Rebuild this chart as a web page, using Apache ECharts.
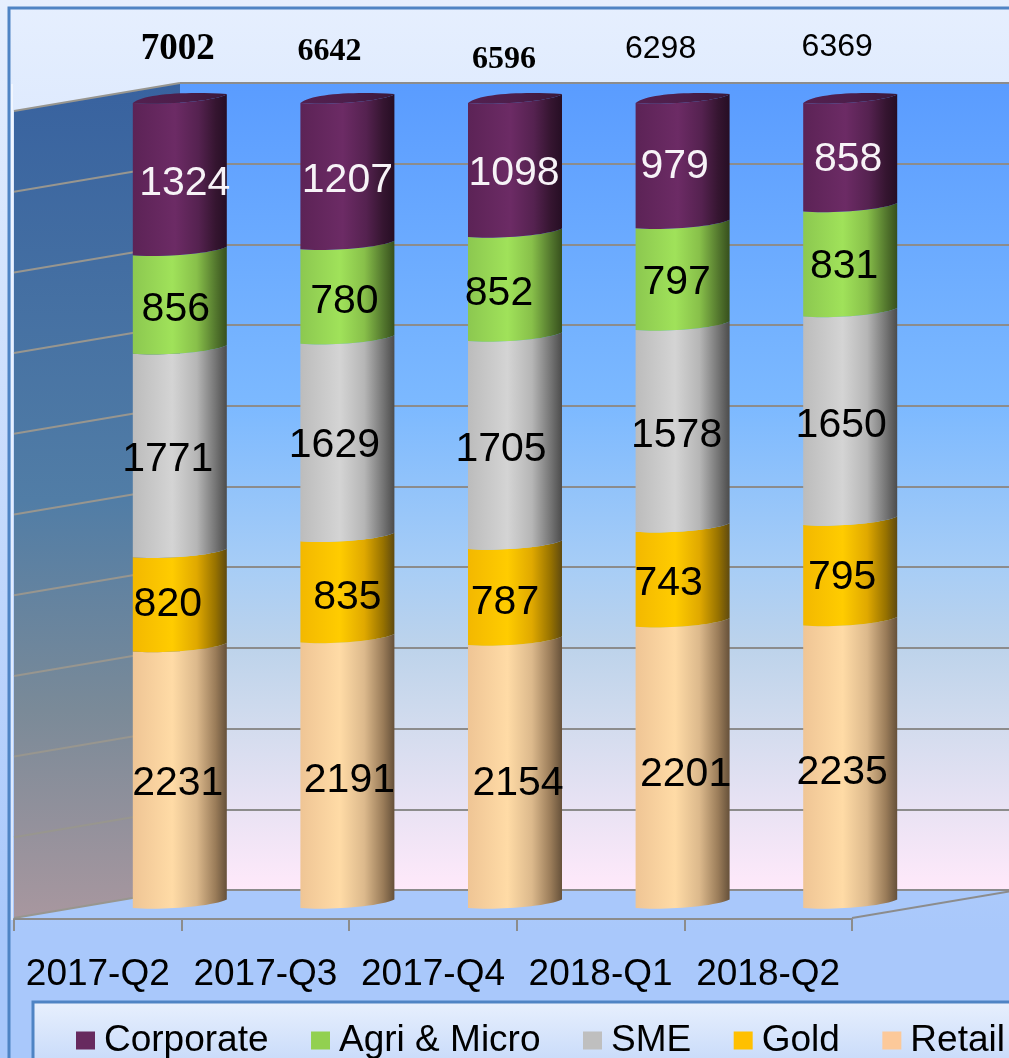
<!DOCTYPE html>
<html>
<head>
<meta charset="utf-8">
<title>Advances by segment</title>
<script src="https://cdn.jsdelivr.net/npm/echarts@6/dist/echarts.min.js"></script>
<style>
	html, body { margin: 0; padding: 0; background: #fff; overflow: hidden; }
	#chart { width: 1009px; height: 1058px; }
</style>
</head>
<body>
<div id="chart"></div>
<script>
	var quarters = ['2017-Q2', '2017-Q3', '2017-Q4', '2018-Q1', '2018-Q2'];
	var retail = [2231, 2191, 2154, 2201, 2235];
	var gold = [820, 835, 787, 743, 795];
	var sme = [1771, 1629, 1705, 1578, 1650];
	var agri = [856, 780, 852, 797, 831];
	var corporate = [1324, 1207, 1098, 979, 858];
	var totals = [7002, 6642, 6596, 6298, 6369];
	var wallTicks = [0, 10, 20, 30, 40, 50, 60, 70, 80, 90, 100];
	var legendNames = ['Corporate', 'Agri & Micro', 'SME', 'Gold', 'Retail'];

	var font = '"Liberation Sans", Arial, sans-serif';
	var serif = '"Liberation Serif", "Times New Roman", serif';
	var lineColor = '#8c8c8c';

	// labels were placed by hand in the original, so each one gets a nudge from the segment middle [dx, dy]
	var labelNudge = {
		Retail: [[-2, 4], [2, 5], [3, 7], [3, 7], [-8, 6]],
		Gold: [[-12, 0], [0, 6], [-10, 6], [-14, 5], [-8, 2]],
		SME: [[-12, 4], [-13, 3], [-14, 5], [-6, 5], [-9, 5]],
		'Agri & Micro': [[-4, 5], [-3, 5], [-16, 5], [-6, 4], [-6, 3]],
		Corporate: [[5, 5], [0, 5], [-1, 4], [-8, 1], [-2, 2]]
	};
	var totalNudge = [[-2, -54], [-18, -51], [-11, -43], [-22, -54], [-13, -56]];
	var totalStyle = [
		{ fontSize: 37, fontFamily: serif, fontWeight: 'bold' },
		{ fontSize: 32, fontFamily: serif, fontWeight: 'bold' },
		{ fontSize: 32, fontFamily: serif, fontWeight: 'bold' },
		{ fontSize: 32, fontFamily: font, fontWeight: 'normal' },
		{ fontSize: 32, fontFamily: font, fontWeight: 'normal' }
	];

	function hGrad(stops) {
		return new echarts.graphic.LinearGradient(0, 0, 1, 0, stops.map(function (c) {
			return { offset: c[0], color: c[1] };
		}));
	}
	function vGrad(stops) {
		return new echarts.graphic.LinearGradient(0, 0, 0, 1, stops.map(function (c) {
			return { offset: c[0], color: c[1] };
		}));
	}

	// front curve of a cylinder slice, going left to right from (xl, y)
	function arc(xl, w, y) {
		return 'C' + (xl + w * 0.3) + ' ' + (y + 2.5) + ' ' + (xl + w * 0.85) + ' ' + (y - 1.5) + ' ' + (xl + w) + ' ' + (y - 8.5);
	}
	// same curve walked back from the right end
	function arcBack(xl, w, y) {
		return 'C' + (xl + w * 0.85) + ' ' + (y - 1.5) + ' ' + (xl + w * 0.3) + ' ' + (y + 2.5) + ' ' + xl + ' ' + y;
	}

	var segments = [
		{ name: 'Retail', values: retail, color: '#fcc99a', text: '#000',
			stops: [[0, '#efc595'], [0.42, '#ffdba6'], [0.68, '#dcb98c'], [0.88, '#9a7c59'], [1, '#66513a']] },
		{ name: 'Gold', values: gold, color: '#ffc000', text: '#000',
			stops: [[0, '#f3b800'], [0.42, '#ffcc00'], [0.68, '#e0a900'], [0.88, '#977200'], [1, '#5f4a10']] },
		{ name: 'SME', values: sme, color: '#bfbfbf', text: '#000',
			stops: [[0, '#bcbcbc'], [0.42, '#d4d4d4'], [0.68, '#b6b6b6'], [0.88, '#757575'], [1, '#4c4c4c']] },
		{ name: 'Agri & Micro', values: agri, color: '#92d050', text: '#000',
			stops: [[0, '#8cc850'], [0.42, '#a0e25a'], [0.68, '#88c04a'], [0.88, '#54782e'], [1, '#37501d']] },
		{ name: 'Corporate', values: corporate, color: '#672a5f', text: '#f7f3f7',
			stops: [[0, '#5c2356'], [0.45, '#6c2b65'], [0.7, '#552250'], [0.88, '#351530'], [1, '#260e24']] }
	];

	// percent stacked: every column runs up to the same height
	var running = quarters.map(function () { return 0; });
	var cylinderSeries = segments.map(function (seg, segIndex) {
		var rows = seg.values.map(function (v, i) {
			var start = running[i] / totals[i] * 100;
			running[i] += v;
			return [i, start, running[i] / totals[i] * 100, v];
		});
		var isTop = segIndex === segments.length - 1;
		return {
			name: seg.name,
			type: 'custom',
			xAxisIndex: 2,
			yAxisIndex: 2,
			z: 5 + segIndex,
			silent: true,
			itemStyle: { color: seg.color },
			data: rows,
			renderItem: function (params, api) {
				var i = api.value(0);
				var bottom = api.coord([i, api.value(1)]);
				var top = api.coord([i, api.value(2)]);
				var xl = bottom[0] - 47, w = 94, xr = xl + w;
				var nudge = labelNudge[seg.name][i];
				var children = [{
					type: 'path',
					shape: {
						pathData: 'M' + xl + ' ' + top[1] + arc(xl, w, top[1])
							+ 'L' + xr + ' ' + (bottom[1] - 8.5)
							+ arcBack(xl, w, bottom[1]) + 'Z'
					},
					style: { fill: hGrad(seg.stops) }
				}];
				if (isTop) {
					children.push({
						type: 'path',
						shape: {
							pathData: 'M' + xl + ' ' + top[1]
								+ 'C' + (xl + w * 0.12) + ' ' + (top[1] - 9) + ' ' + (xl + w * 0.55) + ' ' + (top[1] - 11.5) + ' ' + xr + ' ' + (top[1] - 9)
								+ 'L' + xr + ' ' + (top[1] - 8.5)
								+ arcBack(xl, w, top[1]) + 'Z'
						},
						style: { fill: hGrad([[0, '#532050'], [0.5, '#4c1e4a'], [1, '#3a1838']]) }
					});
				}
				children.push({
					type: 'text',
					z2: 10,
					style: {
						text: String(api.value(3)),
						x: bottom[0] + nudge[0],
						y: (bottom[1] + top[1]) / 2 + nudge[1],
						align: 'center',
						verticalAlign: 'middle',
						fontFamily: font,
						fontSize: 41,
						fill: seg.text
					}
				});
				return { type: 'group', children: children };
			}
		};
	});

	var option = {
		animation: false,
		backgroundColor: vGrad([[0, '#e6effe'], [0.88, '#a9c8fb'], [1, '#a9c8fb']]),
		grid: [
			{
				left: 180, top: 83, width: 838, height: 807, show: true, borderWidth: 0,
				backgroundColor: vGrad([[0, '#5a9cff'], [0.4, '#7cb9ff'], [0.6, '#a7cdf6'], [0.7, '#bdd3eb'], [0.8, '#d3dcee'], [1, '#ffe9fa']])
			},
			{ left: 14, top: 83, width: 838, height: 836 },
			{ left: 96, top: 103, width: 838, height: 805 }
		],
		xAxis: [
			{ gridIndex: 0, type: 'category', data: quarters, show: false },
			{
				gridIndex: 1,
				type: 'category',
				data: quarters,
				z: 4,
				axisLine: { lineStyle: { color: lineColor, width: 2 } },
				axisTick: { show: true, alignWithLabel: false, length: 12, lineStyle: { color: lineColor, width: 2 } },
				axisLabel: { color: '#000', fontSize: 37, fontFamily: font, margin: 37, interval: 0 }
			},
			{ gridIndex: 2, type: 'category', data: quarters, show: false }
		],
		yAxis: [
			{
				gridIndex: 0,
				type: 'value',
				min: 0,
				max: 100,
				interval: 10,
				axisLine: { show: false },
				axisTick: { show: false },
				axisLabel: { show: false },
				splitLine: { show: true, lineStyle: { color: lineColor, width: 2 } }
			},
			{ gridIndex: 1, type: 'value', min: 0, max: 100, show: false, splitLine: { show: false } },
			{ gridIndex: 2, type: 'value', min: 0, max: 100, show: false, splitLine: { show: false } }
		],
		legend: {
			left: 76,
			top: 1022,
			width: 1100,
			padding: 0,
			icon: 'rect',
			itemWidth: 19,
			itemHeight: 18,
			itemGap: 42.5,
			data: legendNames,
			selectedMode: false,
			textStyle: { color: '#000', fontSize: 37, fontFamily: font, padding: [0, 0, 0, 4] }
		},
		graphic: {
			elements: [
				{
					type: 'rect',
					shape: { x: 9, y: 8, width: 1100, height: 1100 },
					style: { fill: 'none', stroke: '#4f84c4', lineWidth: 3 }
				},
				{
					type: 'rect',
					shape: { x: 11, y: 84, width: 2, height: 836 },
					style: { fill: 'rgba(255,255,255,0.55)' }
				},
				{
					type: 'rect',
					shape: { x: 33, y: 1002, width: 1100, height: 100 },
					style: { fill: vGrad([[0, '#e8f0fd'], [1, '#b4cdf8']]), stroke: '#4f84c4', lineWidth: 3 }
				}
			]
		},
		series: [{
			// side wall and floor of the 3d box, hung off the back wall scale
			name: 'Wall',
			type: 'custom',
			xAxisIndex: 0,
			yAxisIndex: 0,
			z: 2,
			silent: true,
			data: wallTicks.map(function (t) { return [0, t]; }),
			renderItem: function (params, api) {
				var sys = params.coordSys;
				var y = api.coord([0, api.value(1)])[1];
				var backX = sys.x, frontX = sys.x - 166, drop = 28;
				var children = [];
				if (params.dataIndex === 0) {
					children.push({
						type: 'polygon',
						shape: { points: [[frontX, sys.y + drop], [backX, sys.y], [backX, sys.y + sys.height], [frontX, sys.y + sys.height + drop]] },
						style: { fill: vGrad([[0, '#38629f'], [0.5, '#517da6'], [0.75, '#7a8a98'], [1, '#a8979f']]) }
					});
					children.push({
						type: 'polygon',
						shape: { points: [[frontX, sys.y + sys.height + drop], [backX, sys.y + sys.height], [backX + 838, sys.y + sys.height], [frontX + 838, sys.y + sys.height + drop]] },
						style: { fill: '#a9c8fb' }
					});
					children.push({
						type: 'line',
						shape: { x1: frontX + 838, y1: sys.y + sys.height + drop, x2: backX + 838, y2: sys.y + sys.height },
						style: { stroke: lineColor, lineWidth: 2 }
					});
					children.push({
						type: 'line',
						shape: { x1: backX, y1: sys.y + sys.height, x2: backX + 838, y2: sys.y + sys.height },
						style: { stroke: lineColor, lineWidth: 2 }
					});
				}
				children.push({
					type: 'line',
					z2: 2,
					shape: { x1: backX, y1: y, x2: frontX, y2: y + drop },
					style: { stroke: '#98968f', lineWidth: 2 }
				});
				return { type: 'group', children: children };
			}
		}].concat(cylinderSeries, [{
			name: 'Total',
			type: 'custom',
			xAxisIndex: 2,
			yAxisIndex: 2,
			z: 12,
			silent: true,
			data: totals.map(function (t, i) { return [i, 100, t]; }),
			renderItem: function (params, api) {
				var i = api.value(0);
				var p = api.coord([i, api.value(1)]);
				var s = totalStyle[i];
				return {
					type: 'text',
					style: {
						text: String(api.value(2)),
						x: p[0] + totalNudge[i][0],
						y: p[1] + totalNudge[i][1],
						align: 'center',
						verticalAlign: 'middle',
						fontFamily: s.fontFamily,
						fontSize: s.fontSize,
						fontWeight: s.fontWeight,
						fill: '#000'
					}
				};
			}
		}])
	};

	var chart = echarts.init(document.getElementById('chart'), null, { renderer: 'canvas' });
	chart.setOption(option);
</script>
</body>
</html>
